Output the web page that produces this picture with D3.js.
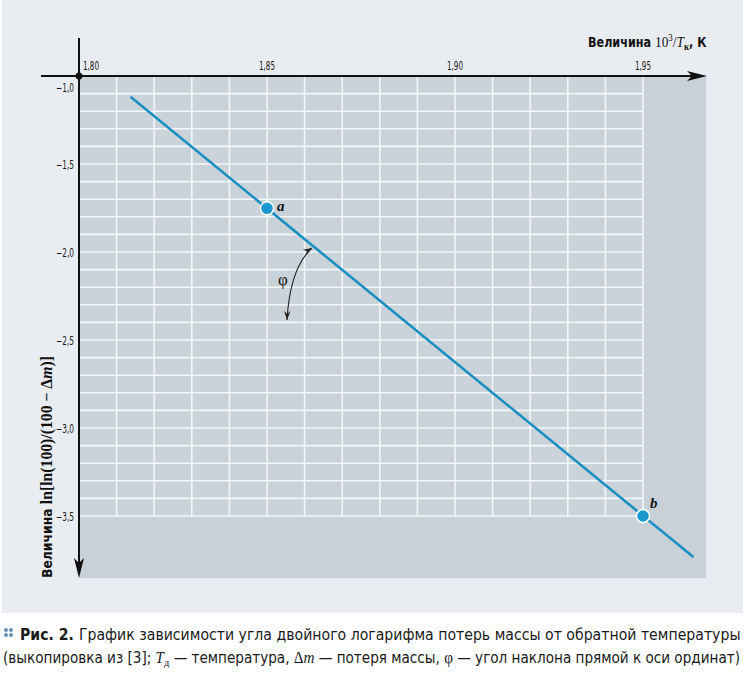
<!DOCTYPE html>
<html><head><meta charset="utf-8">
<script src="https://cdn.jsdelivr.net/npm/d3@7"></script>
<style>body{margin:0;background:#fff}svg{display:block}</style>
</head><body><svg id="c" width="746" height="675"></svg>
<script>
// ---- data ----
const xTicks = [1.80, 1.85, 1.90, 1.95];
const xTickLabels = ["1,80", "1,85", "1,90", "1,95"];
const yTicks = [-1.0, -1.5, -2.0, -2.5, -3.0, -3.5];
const yTickLabels = ["\u22121,0", "\u22121,5", "\u22122,0", "\u22122,5", "\u22123,0", "\u22123,5"];
const xGrid = [1.81, 1.82, 1.83, 1.84, 1.85, 1.86, 1.87, 1.88, 1.89, 1.90, 1.91, 1.92, 1.93, 1.94, 1.95];
const yGrid = [-1.1, -1.2, -1.3, -1.4, -1.5, -1.6, -1.7, -1.8, -1.9, -2.0, -2.1, -2.2, -2.3, -2.4, -2.5, -2.6, -2.7, -2.8, -2.9, -3.0, -3.1, -3.2, -3.3, -3.4, -3.5];
const lineX = [1.8137, 1.9634];
const lineY = [-1.118, -3.733];
const pointNames = ["a", "b"];
const pointX = [1.85, 1.95];
const pointY = [-1.752, -3.50];

const svg = d3.select("#c");
const x = d3.scaleLinear().domain([1.80, 1.95]).range([79, 643]);
const y = d3.scaleLinear().domain([-1.0, -3.5]).range([76, 516]);
const xEnd = x.invert(706), yEnd = y.invert(578);

// fit a text element to a given width by horizontal scaling
function fit(t, tx, ty, width) {
  const w = t.node().getBBox().width;
  t.attr("transform", `translate(${tx},${ty}) scale(${width / w},1)`);
}

// page background
svg.append("rect").attr("x", 2).attr("y", 0).attr("width", 741).attr("height", 613).attr("fill", "#e9edf1");
// plot area
svg.append("rect").attr("x", x(1.80)).attr("y", y(-1.0)).attr("width", x(xEnd) - x(1.80)).attr("height", y(yEnd) - y(-1.0)).attr("fill", "#c9d1d8");
svg.append("rect").attr("x", x(1.80)).attr("y", y(-1.0)).attr("width", x(1.95) - x(1.80)).attr("height", y(-3.5) - y(-1.0)).attr("fill", "#cbd3da");
// grid
const g = svg.append("g").attr("stroke", "#f4f6f8").attr("stroke-width", 1.6);
g.selectAll("line.v").data(xGrid).join("line").attr("class", "v")
  .attr("x1", d => x(d)).attr("x2", d => x(d)).attr("y1", y(-1.0)).attr("y2", y(-3.5));
g.selectAll("line.h").data(yGrid).join("line").attr("class", "h")
  .attr("x1", x(1.80)).attr("x2", x(1.95)).attr("y1", d => y(d)).attr("y2", d => y(d));

// axes
svg.append("line").attr("x1", 41).attr("x2", 696).attr("y1", y(-1.0)).attr("y2", y(-1.0)).attr("stroke", "#111").attr("stroke-width", 2);
svg.append("line").attr("x1", x(1.80)).attr("x2", x(1.80)).attr("y1", 38).attr("y2", 568).attr("stroke", "#111").attr("stroke-width", 2);
const ax = 707, ay = y(-1.0);
svg.append("path").attr("d", `M${ax},${ay} L${ax-20},${ay-5} L${ax-15},${ay} L${ax-20},${ay+5} Z`).attr("fill", "#111");
const bx = x(1.80), by = 578;
svg.append("path").attr("d", `M${bx},${by} L${bx-5},${by-20} L${bx},${by-15} L${bx+5},${by-20} Z`).attr("fill", "#111");
svg.append("circle").attr("cx", x(1.80)).attr("cy", y(-1.0)).attr("r", 3.5).attr("fill", "#111");

// tick labels
const tickFont = "'DejaVu Sans Condensed','DejaVu Sans',sans-serif";
svg.selectAll("text.xt").data(xTicks).join("text").attr("class", "xt")
  .attr("x", (d, i) => i === 0 ? x(d) + 4 : x(d)).attr("y", 70)
  .attr("text-anchor", (d, i) => i === 0 ? "start" : "middle")
  .attr("font-family", tickFont).attr("font-size", 12).attr("fill", "#1a1a1a")
  .attr("textLength", 16).attr("lengthAdjust", "spacingAndGlyphs")
  .text((d, i) => xTickLabels[i]);
svg.selectAll("text.yt").data(yTicks).join("text").attr("class", "yt")
  .attr("x", 74).attr("y", (d, i) => i === 0 ? y(d) + 16 : y(d) + 4.5)
  .attr("text-anchor", "end")
  .attr("font-family", tickFont).attr("font-size", 12).attr("fill", "#1a1a1a")
  .attr("textLength", 18).attr("lengthAdjust", "spacingAndGlyphs")
  .text((d, i) => yTickLabels[i]);

// x title
const xt = svg.append("text").attr("fill", "#111").attr("font-size", 14);
xt.append("tspan").attr("font-family", "'DejaVu Sans Condensed',sans-serif").attr("font-weight", "bold").text("Величина ");
xt.append("tspan").attr("font-family", "'Liberation Serif',serif").attr("font-size", 15).text("10");
xt.append("tspan").attr("font-family", "'Liberation Serif',serif").attr("font-size", 10).attr("dy", -6).text("3");
xt.append("tspan").attr("font-family", "'Liberation Serif',serif").attr("font-size", 15).attr("dy", 6).text("/");
xt.append("tspan").attr("font-family", "'Liberation Serif',serif").attr("font-style", "italic").attr("font-size", 15).text("T");
xt.append("tspan").attr("font-family", "'Liberation Serif',serif").attr("font-size", 10).attr("font-weight", "bold").attr("dy", 3).text("к");
xt.append("tspan").attr("font-family", "'DejaVu Sans Condensed',sans-serif").attr("font-weight", "bold").attr("dy", -3).text(", К");
fit(xt, 588, 47, 119);

// y title
const yt = svg.append("text").attr("fill", "#111").attr("font-size", 14);
yt.append("tspan").attr("font-family", "'DejaVu Sans Condensed',sans-serif").attr("font-weight", "bold").text("Величина ");
yt.append("tspan").attr("font-family", "'Liberation Serif',serif").attr("font-size", 16).attr("font-weight", "bold").text("ln[ln(100)/(100 \u2212 Δ");
yt.append("tspan").attr("font-family", "'Liberation Serif',serif").attr("font-size", 16).attr("font-weight", "bold").attr("font-style", "italic").text("m");
yt.append("tspan").attr("font-family", "'Liberation Serif',serif").attr("font-size", 16).attr("font-weight", "bold").text(")]");
{
  const w = yt.node().getBBox().width;
  yt.attr("transform", `translate(52,578) rotate(-90) scale(${222 / w},1)`);
}

// regression line
svg.append("path").datum(lineX.map((d, i) => [d, lineY[i]]))
  .attr("d", d3.line().x(d => x(d[0])).y(d => y(d[1])))
  .attr("stroke", "#1a8fc2").attr("stroke-width", 2.6).attr("fill", "none");

// points
svg.selectAll("circle.p").data(pointX).join("circle").attr("class", "p")
  .attr("cx", d => x(d)).attr("cy", (d, i) => y(pointY[i])).attr("r", 6.5)
  .attr("fill", "#1898cf").attr("stroke", "#fff").attr("stroke-width", 1.5);
svg.selectAll("text.pl").data(pointX).join("text").attr("class", "pl")
  .attr("x", (d, i) => x(d) + (i === 0 ? 10 : 7)).attr("y", (d, i) => y(pointY[i]) + (i === 0 ? 3 : -8))
  .attr("font-family", "'Liberation Serif',serif").attr("font-style", "italic").attr("font-weight", "bold")
  .attr("font-size", 15).attr("fill", "#111").text((d, i) => pointNames[i]);

// phi annotation (double arrow)
const p1 = [312, 248], p2 = [287, 320], cp = [290, 268];
svg.append("path").attr("d", `M${p1[0]},${p1[1]} Q${cp[0]},${cp[1]} ${p2[0]},${p2[1]}`)
  .attr("stroke", "#222").attr("stroke-width", 1.1).attr("fill", "none");
function head(tip, from) {
  const ang = Math.atan2(tip[1] - from[1], tip[0] - from[0]);
  const L = 9, W = 3.2;
  const hx = tip[0] - L * Math.cos(ang), hy = tip[1] - L * Math.sin(ang);
  const mx = tip[0] - 6 * Math.cos(ang), my = tip[1] - 6 * Math.sin(ang);
  const px = -Math.sin(ang) * W, py = Math.cos(ang) * W;
  svg.append("path").attr("d", `M${tip[0]},${tip[1]} L${hx + px},${hy + py} L${mx},${my} L${hx - px},${hy - py} Z`).attr("fill", "#222");
}
head(p1, [300, 255]);
head(p2, [287.5, 305]);
svg.append("text").attr("x", 283).attr("y", 285).attr("text-anchor", "middle")
  .attr("font-family", "'Liberation Serif',serif").attr("font-size", 17).attr("fill", "#111").text("φ");

// caption
const bullet = svg.append("g").attr("fill", "#5f8db3");
[[6, 630], [11, 630], [6, 635], [11, 635]].forEach(p => bullet.append("circle").attr("cx", p[0]).attr("cy", p[1]).attr("r", 1.9));
const capFont = "'DejaVu Sans Condensed','Roboto',sans-serif";
const c1 = svg.append("text").attr("font-family", capFont).attr("font-size", 16).attr("fill", "#1a1a1a");
c1.append("tspan").attr("font-weight", "bold").text("Рис. 2. ");
c1.append("tspan").text("График зависимости угла двойного логарифма потерь массы от обратной температуры");
fit(c1, 20, 640, 721);
const c2 = svg.append("text").attr("font-family", capFont).attr("font-size", 16).attr("fill", "#1a1a1a");
c2.append("tspan").text("(выкопировка из [3]; ");
c2.append("tspan").attr("font-family", "'Liberation Serif',serif").attr("font-style", "italic").text("T");
c2.append("tspan").attr("font-family", "'Liberation Serif',serif").attr("font-size", 11).attr("dy", 3).text("д");
c2.append("tspan").attr("dy", -3).text(" — температура, ");
c2.append("tspan").attr("font-family", "'Liberation Serif',serif").text("Δ");
c2.append("tspan").attr("font-family", "'Liberation Serif',serif").attr("font-style", "italic").text("m");
c2.append("tspan").text(" — потеря массы, ");
c2.append("tspan").attr("font-family", "'Liberation Serif',serif").text("φ");
c2.append("tspan").text(" — угол наклона прямой к оси ординат)");
fit(c2, 3, 663, 738);
</script></body></html>
